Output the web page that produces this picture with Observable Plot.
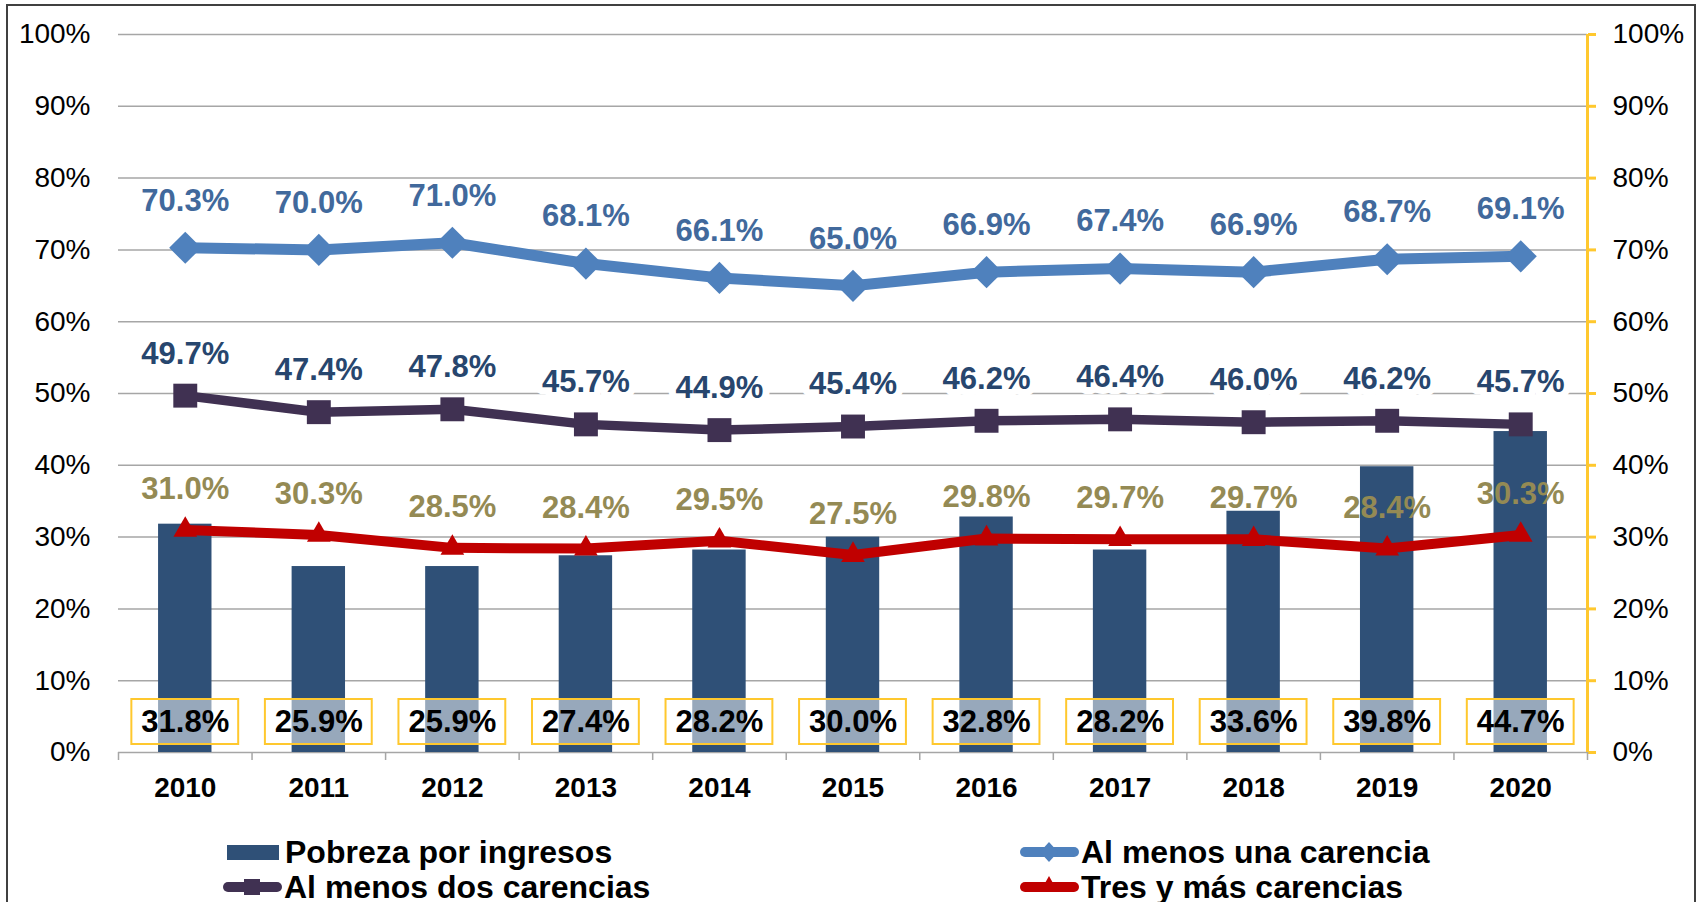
<!DOCTYPE html>
<html><head><meta charset="utf-8">
<script src="https://cdn.jsdelivr.net/npm/d3@7"></script>
<script src="https://cdn.jsdelivr.net/npm/@observablehq/plot@0.6"></script>
<style>
html,body{margin:0;padding:0;background:#fff;overflow:hidden;}
#wrap{position:relative;width:1705px;height:902px;font-family:"Liberation Sans",Arial,sans-serif;overflow:hidden;}
#border{position:absolute;left:6px;top:4px;width:1690px;height:1000px;border:2px solid #404040;box-sizing:border-box;}
#chart{position:absolute;left:0;top:0;}
.lg{position:absolute;display:flex;align-items:center;height:30px;line-height:30px;font-size:32px;font-weight:bold;color:#000;white-space:nowrap;}
.lg svg{flex:none;}
</style></head><body>
<div id="wrap"><div id="border"></div><div id="chart"></div><div id="legend"></div></div>
<script>
const years = [2010, 2011, 2012, 2013, 2014, 2015, 2016, 2017, 2018, 2019, 2020];
const pobreza = [31.8, 25.9, 25.9, 27.4, 28.2, 30.0, 32.8, 28.2, 33.6, 39.8, 44.7];
const unaCarencia = [70.3, 70.0, 71.0, 68.1, 66.1, 65.0, 66.9, 67.4, 66.9, 68.7, 69.1];
const dosCarencias = [49.7, 47.4, 47.8, 45.7, 44.9, 45.4, 46.2, 46.4, 46.0, 46.2, 45.7];
const tresCarencias = [31.0, 30.3, 28.5, 28.4, 29.5, 27.5, 29.8, 29.7, 29.7, 28.4, 30.3];
const yTicks = [0, 10, 20, 30, 40, 50, 60, 70, 80, 90, 100];
const seriesNames = ["Pobreza por ingresos", "Al menos una carencia", "Al menos dos carencias", "Tres y más carencias"];

const C_BAR = "#2F5077", C_UNA = "#4F81BD", C_DOS = "#403152", C_TRES = "#C00000";
const L_UNA = "#41699C", L_DOS = "#27466E", L_TRES = "#948A54";
const C_GOLD = "#FFC82E", C_GRID = "#a6a6a6";
const FONT = '"Liberation Sans", Arial, sans-serif';

const rows = vals => years.map((year, i) => ({year, v: vals[i]}));
const pob = rows(pobreza), una = rows(unaCarencia), dos = rows(dosCarencias), tres = rows(tresCarencias);
const bounds = [...years.map(y => y - 0.5), years[years.length - 1] + 0.5];
const pct = d => d.v.toFixed(1) + "%";
const lbl = {fontSize: 31, fontWeight: "bold"};

const chart = Plot.plot({
  width: 1705, height: 820,
  marginTop: 34, marginBottom: 68, marginLeft: 118, marginRight: 118,
  style: {fontFamily: FONT, background: "transparent", overflow: "visible"},
  x: {type: "linear", domain: [bounds[0], bounds[bounds.length - 1]]},
  y: {domain: [0, 100]},
  marks: [
    Plot.gridY(yTicks, {stroke: C_GRID, strokeOpacity: 1, strokeWidth: 1.5}),
    Plot.axisY(yTicks, {anchor: "left", tickSize: 0, tickPadding: 28, tickFormat: d => d + "%", fontSize: 28, fill: "#000", label: null}),
    Plot.axisY(yTicks, {anchor: "right", tickSize: 8, tickPadding: 17, tickFormat: d => d + "%", fontSize: 28, stroke: C_GOLD, strokeWidth: 3, fill: "#000", label: null}),
    Plot.ruleX([bounds[bounds.length - 1]], {stroke: C_GOLD, strokeWidth: 3}),
    Plot.axisX(years, {tickSize: 0, tickPadding: 25, tickFormat: d => String(d), fontSize: 28, fontWeight: "bold", fill: "#000", label: null}),
    Plot.axisX(bounds, {tickSize: 8, tickFormat: () => "", stroke: C_GRID, strokeWidth: 1.5, label: null}),
    Plot.rectY(pob, {x1: d => d.year - 0.2, x2: d => d.year + 0.2, y: "v", fill: C_BAR}),
    Plot.rect(pob, {x1: d => d.year - 0.4, x2: d => d.year + 0.4, y1: 0, y2: 0, insetTop: -53, insetBottom: 8,
      fill: "white", fillOpacity: 0.5, stroke: C_GOLD, strokeWidth: 2}),
    Plot.text(pob, {x: "year", y: 0, dy: -30, text: pct, ...lbl, fill: "#000"}),
    Plot.line(tres, {x: "year", y: "v", stroke: C_TRES, strokeWidth: 10}),
    Plot.dot(tres, {x: "year", y: "v", symbol: "triangle", r: 8.8, fill: C_TRES, stroke: "none"}),
    Plot.text(tres, {x: "year", y: "v", dy: -41, text: pct, ...lbl, fill: L_TRES}),
    Plot.line(dos, {x: "year", y: "v", stroke: C_DOS, strokeWidth: 9.5}),
    Plot.dot(dos, {x: "year", y: "v", symbol: "square", r: 13.5, fill: C_DOS, stroke: "none"}),
    Plot.text(dos, {x: "year", y: "v", dy: -42, text: pct, ...lbl, fill: L_DOS, stroke: "white", strokeWidth: 14}),
    Plot.line(una, {x: "year", y: "v", stroke: C_UNA, strokeWidth: 11}),
    Plot.dot(una, {x: "year", y: "v", symbol: "diamond2", r: 14.5, fill: C_UNA, stroke: "none"}),
    Plot.text(una, {x: "year", y: "v", dy: -47, text: pct, ...lbl, fill: L_UNA})
  ]
});
document.getElementById("chart").appendChild(chart);

// Legend
const NS = "http://www.w3.org/2000/svg";
const legendItems = [
  {name: seriesNames[0], kind: "bar", color: C_BAR, left: 222, top: 837},
  {name: seriesNames[1], kind: "diamond", color: C_UNA, left: 1018, top: 837},
  {name: seriesNames[2], kind: "square", color: C_DOS, left: 221, top: 872},
  {name: seriesNames[3], kind: "triangle", color: C_TRES, left: 1018, top: 872}
];
const legend = document.getElementById("legend");
for (const it of legendItems) {
  const div = document.createElement("div");
  div.className = "lg";
  div.style.left = it.left + "px";
  div.style.top = it.top + "px";
  const svg = document.createElementNS(NS, "svg");
  svg.setAttribute("width", 63); svg.setAttribute("height", 30);
  if (it.kind === "bar") {
    svg.innerHTML = `<rect x="5" y="8" width="52" height="15" fill="${it.color}"/>`;
  } else {
    let m = "";
    if (it.kind === "diamond") m = `<path d="M31,5L40,15L31,25L22,15Z" fill="${it.color}"/>`;
    if (it.kind === "square") m = `<rect x="23" y="7" width="16" height="16" fill="${it.color}"/>`;
    if (it.kind === "triangle") m = `<path d="M31,4L40,20L22,20Z" fill="${it.color}"/>`;
    svg.innerHTML = `<line x1="7" y1="15" x2="56" y2="15" stroke="${it.color}" stroke-width="10" stroke-linecap="round"/>` + m;
  }
  div.appendChild(svg);
  const span = document.createElement("span");
  span.textContent = it.name;
  div.appendChild(span);
  legend.appendChild(div);
}
</script>
</body></html>
